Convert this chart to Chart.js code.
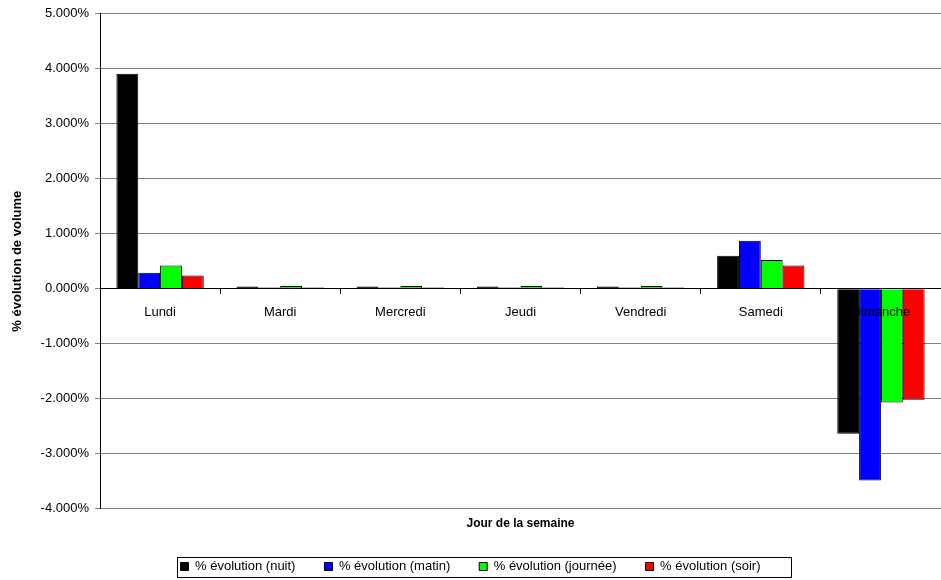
<!DOCTYPE html>
<html>
<head>
<meta charset="utf-8">
<script src="https://cdn.jsdelivr.net/npm/chart.js@4.4.1/dist/chart.umd.min.js"></script>
<style>
  body { margin: 0; background: #fff; }
  #wrap { width: 941px; height: 580px; }
</style>
</head>
<body>
<div id="wrap"><canvas id="chart"></canvas></div>
<script>
// data (values in %)
const categories = ['Lundi', 'Mardi', 'Mercredi', 'Jeudi', 'Vendredi', 'Samedi', 'Dimanche'];
const nuit    = [3.91, 0.04, 0.04, 0.04, 0.04, 0.60, -2.64];
const matin   = [0.29, 0.02, 0.02, 0.02, 0.02, 0.87, -3.49];
const journee = [0.42, 0.05, 0.05, 0.05, 0.05, 0.52, -2.07];
const soir    = [0.24, 0.02, 0.02, 0.02, 0.02, 0.42, -2.02];
const yTicks  = [-4, -3, -2, -1, 0, 1, 2, 3, 4, 5];

const font = 'Arial, "Liberation Sans", sans-serif';

// draws the frame around the legend, like the spreadsheet one
const legendFrame = {
  id: 'legendFrame',
  afterDraw(chart) {
    const boxes = chart.legend.legendHitBoxes;
    if (!boxes || !boxes.length) return;
    const left = Math.min(...boxes.map(b => b.left)) - 4;
    const right = Math.max(...boxes.map(b => b.left + b.width)) + 30;
    const top = Math.min(...boxes.map(b => b.top)) - 3;
    const bottom = Math.max(...boxes.map(b => b.top + b.height)) + 4;
    const c = chart.ctx;
    c.save();
    c.strokeStyle = '#000';
    c.lineWidth = 1;
    c.strokeRect(Math.round(left) + 0.5, Math.round(top) + 0.5, Math.round(right - left), Math.round(bottom - top));
    c.restore();
  }
};

function series(label, data, color) {
  return {
    label: label,
    data: data,
    backgroundColor: color,
    borderColor: '#000',
    borderWidth: 1,
    categoryPercentage: 0.727,
    barPercentage: 1.0
  };
}

const ctx = document.getElementById('chart').getContext('2d');
new Chart(ctx, {
  type: 'bar',
  data: {
    labels: categories,
    datasets: [
      series('% évolution (nuit)', nuit, '#000000'),
      series('% évolution (matin)', matin, '#0000ff'),
      series('% évolution (journée)', journee, '#00ff00'),
      series('% évolution (soir)', soir, '#ff0000')
    ]
  },
  options: {
    responsive: true,
    maintainAspectRatio: false,
    animation: false,
    layout: { padding: { top: 13, right: 0, left: 0, bottom: -3 } },
    plugins: {
      tooltip: { enabled: false },
      title: {
        display: true,
        text: 'Jour de la semaine',
        position: 'bottom',
        fullSize: false,
        weight: 500,
        color: '#000',
        font: { family: font, size: 12, weight: 'bold' },
        padding: { top: 8, bottom: 0 }
      },
      legend: {
        position: 'bottom',
        labels: {
          color: '#000',
          boxWidth: 8,
          boxHeight: 8,
          padding: 29,
          font: { family: font, size: 13 }
        }
      }
    },
    scales: {
      x: {
        position: { y: 0 },
        border: { color: '#000', width: 1, z: 1 },
        grid: {
          drawOnChartArea: false,
          drawTicks: true,
          tickLength: 5,
          tickColor: '#000',
          offset: true
        },
        ticks: {
          z: 1,
          color: '#000',
          padding: 11,
          font: { family: font, size: 13 },
          maxRotation: 0
        }
      },
      y: {
        min: -4,
        max: 5,
        afterFit(scale) { scale.width = 100; },
        afterBuildTicks(scale) { scale.ticks = yTicks.map(v => ({ value: v })); },
        border: { color: '#000', width: 1 },
        grid: {
          color: '#808080',
          tickColor: '#808080',
          tickLength: 5
        },
        ticks: {
          color: '#000',
          padding: 6,
          font: { family: font, size: 13 },
          callback: v => v.toFixed(3) + '%'
        },
        title: {
          display: true,
          text: '% évolution de volume',
          color: '#000',
          font: { family: font, size: 13, weight: 'bold' },
          padding: { top: 10, bottom: 0 }
        }
      }
    }
  },
  plugins: [legendFrame]
});
</script>
</body>
</html>
